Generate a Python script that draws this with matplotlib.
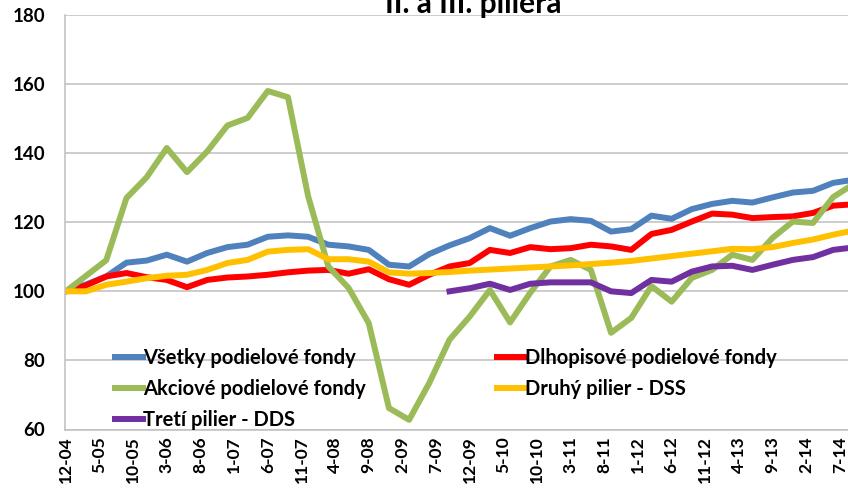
import matplotlib
matplotlib.use('Agg')
import matplotlib.pyplot as plt

plt.rcParams['font.family'] = ['Lato', 'DejaVu Sans']
plt.rcParams['font.weight'] = 'bold'

# quarterly observations, months counted from 12-04
months = [3 * i for i in range(40)]
tick_months = [5 * i for i in range(24)]
tick_labels = ['12-04', '5-05', '10-05', '3-06', '8-06', '1-07', '6-07', '11-07',
               '4-08', '9-08', '2-09', '7-09', '12-09', '5-10', '10-10', '3-11',
               '8-11', '1-12', '6-12', '11-12', '4-13', '9-13', '2-14', '7-14']

vsetky = [100, 102, 104.3, 108.3, 108.9, 110.6, 108.6, 111.1, 112.8, 113.5,
          115.8, 116.2, 115.8, 113.5, 113, 112, 107.7, 107.2, 110.8, 113.3,
          115.4, 118.3, 116.1, 118.3, 120.2, 120.9, 120.4, 117.3, 118, 121.9,
          121, 123.8, 125.3, 126.2, 125.7, 127.2, 128.6, 129.1, 131.4, 132.3]
dlhopisove = [100, 101.7, 104.3, 105.3, 104.1, 103.3, 101.2, 103.3, 104, 104.3,
              104.8, 105.5, 106, 106.2, 105.1, 106.4, 103.5, 101.9, 104.8, 107.2,
              108.2, 112, 111.1, 112.8, 112.2, 112.5, 113.5, 113, 112, 116.6,
              117.8, 120.2, 122.5, 122.2, 121.2, 121.5, 121.7, 122.7, 124.8, 125.2]
akciove = [100, 104.5, 109, 127, 133, 141.5, 134.5, 140.5, 148, 150.2,
           158, 156.2, 127.5, 107.2, 101, 90.8, 66.2, 62.8, 73.5, 86,
           92.7, 100.4, 91, 99.6, 107.2, 109.1, 106.2, 88, 92.3, 101.5,
           97, 103.9, 106.2, 110.6, 109.1, 115.5, 120.2, 119.8, 127.3, 131]
druhy = [100, 100, 101.9, 102.8, 103.8, 104.5, 104.8, 106.2, 108.2, 109.1,
         111.5, 112, 112.2, 109.3, 109.3, 108.6, 105.5, 105.1, 105.3, 105.6,
         106, 106.3, 106.6, 106.9, 107.2, 107.5, 107.9, 108.3, 108.8, 109.5,
         110.2, 110.9, 111.6, 112.3, 112.2, 112.8, 114, 115, 116.4, 117.6]
# third pillar starts at 9-09
treti_months = months[19:]
treti = [100, 100.9, 102.2, 100.4, 102.2, 102.6, 102.6, 102.6, 100, 99.5,
         103.3, 102.8, 105.7, 107.2, 107.4, 106.2, 107.7, 109.1, 109.9, 112, 112.7]

fig = plt.figure(figsize=(8.48, 4.99), dpi=100)
ax = fig.add_axes([64.5 / 848, 1 - 429.5 / 499, (848 - 64.5) / 848, 414.5 / 499])

lw = 4.3
l1, = ax.plot(months, vsetky, color='#4F81BD', lw=lw, solid_joinstyle='round')
l2, = ax.plot(months, dlhopisove, color='#FF0000', lw=lw, solid_joinstyle='round')
l3, = ax.plot(months, akciove, color='#9BBB59', lw=lw, solid_joinstyle='round')
l4, = ax.plot(months, druhy, color='#FFC000', lw=lw, solid_joinstyle='round')
l5, = ax.plot(treti_months, treti, color='#7030A0', lw=lw, solid_joinstyle='round')

ax.set_xlim(-0.2, 116.2)
ax.set_ylim(60, 180)
ax.set_yticks(range(60, 181, 20))
ax.set_xticks(tick_months)
ax.set_xticklabels(tick_labels, rotation=90, fontsize=12.5, fontweight='bold')
for t in ax.get_yticklabels():
    t.set_fontsize(13.5)
    t.set_fontweight('bold')
ax.tick_params(axis='both', length=0)
ax.tick_params(axis='y', pad=14)
ax.tick_params(axis='x', pad=5)
ax.yaxis.grid(True, color='#bfbfbf', lw=1.1)
ax.set_axisbelow(True)
for s in ['top', 'right']:
    ax.spines[s].set_visible(False)
for s in ['left', 'bottom']:
    ax.spines[s].set_color('#bfbfbf')
    ax.spines[s].set_linewidth(1.1)

leg_kw = dict(frameon=False, fontsize=14.5, handlelength=1.4, handletextpad=0.0,
              borderpad=0, borderaxespad=0, labelspacing=0.54, loc='upper left',
              bbox_transform=fig.transFigure)
leg1 = ax.legend([l1, l3, l5],
                 ['Všetky podielové fondy', 'Akciové podielové fondy', 'Tretí pilier - DDS'],
                 bbox_to_anchor=(115 / 848, 1 - 348 / 499), **leg_kw)
ax.add_artist(leg1)
ax.legend([l2, l4], ['Dlhopisové podielové fondy', 'Druhý pilier - DSS'],
          bbox_to_anchor=(497 / 848, 1 - 348 / 499), **leg_kw)

# title is clipped by the top edge, as in the source picture
fig.text(473 / 848, 1 - 13 / 499, 'II. a III. piliera', ha='center', va='baseline',
         fontsize=21.5, fontweight='bold')

fig.savefig('out.png', dpi=100)
